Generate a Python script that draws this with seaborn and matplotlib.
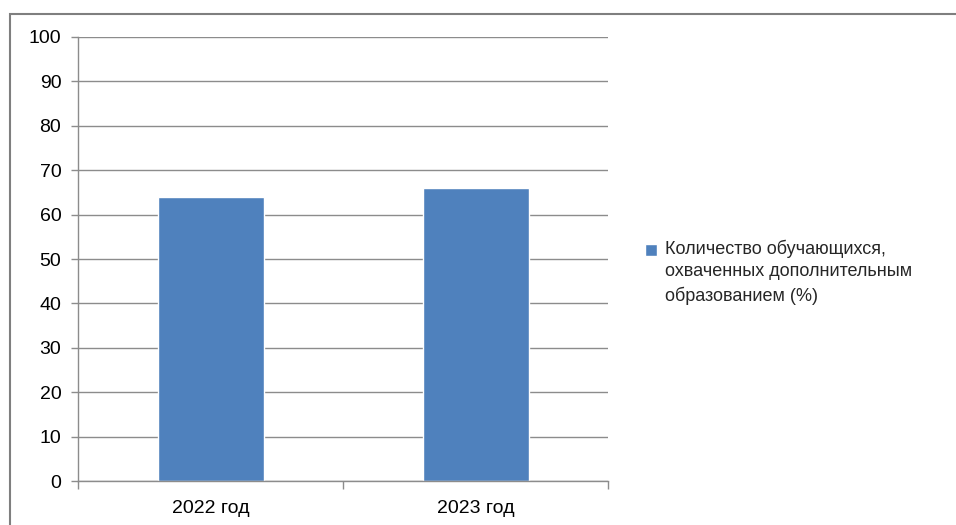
import matplotlib

matplotlib.use("Agg")

import matplotlib.pyplot as plt
import seaborn as sns
from matplotlib.legend_handler import HandlerPatch, update_from_first_child
from matplotlib.patches import Rectangle

years = ["2022 год", "2023 год"]
share = [64, 66]
series_name = "Количество обучающихся,\nохваченных дополнительным\nобразованием (%)"
y_ticks = list(range(0, 101, 10))

BAR_COLOR = "#4F81BD"
GRID_COLOR = "#8C8C8C"


def first_line_square(legend, orig_handle, xdescent, ydescent, width, height, fontsize):
    # Excel puts the legend key next to the first line of a wrapped label
    side = 0.68 * fontsize
    return Rectangle((-xdescent, -ydescent + height - side - 0.25 * fontsize), side, side)


sns.set_theme(style="white")
plt.rcParams["font.family"] = ["Liberation Sans", "DejaVu Sans"]

fig = plt.figure(figsize=(9.56, 5.25), dpi=100)
ax = fig.add_axes([78 / 956, 1 - 481 / 525, 530 / 956, 444 / 525])

sns.barplot(x=years, y=share, color=BAR_COLOR, width=0.4, saturation=1,
            label=series_name, ax=ax)

ax.set_xlim(-0.5, 1.5)
ax.set_ylim(0, 100)
ax.set_yticks(y_ticks)
ax.set_xticks([-0.5, 0.5, 1.5], minor=True)
ax.yaxis.grid(True, color=GRID_COLOR, linewidth=1.0)
ax.set_axisbelow(True)

for side in ["top", "right"]:
    ax.spines[side].set_visible(False)
for side in ["left", "bottom"]:
    ax.spines[side].set_color(GRID_COLOR)
    ax.spines[side].set_linewidth(1.0)

ax.tick_params(axis="y", left=True, length=5, width=1, color=GRID_COLOR,
               pad=7, labelsize=14, labelcolor="#000000")
ax.tick_params(axis="x", which="major", bottom=False, length=0, pad=14,
               labelsize=14, labelcolor="#000000")
ax.tick_params(axis="x", which="minor", bottom=True, length=6, width=1,
               color=GRID_COLOR)

handles, labels = ax.get_legend_handles_labels()
leg = ax.legend(handles, labels, loc="center left",
                bbox_to_anchor=(645 / 956, 1 - 272 / 525),
                bbox_transform=fig.transFigure, frameon=False, fontsize=13,
                handlelength=0.68, handleheight=1.0, handletextpad=0.45,
                borderpad=0, borderaxespad=0,
                handler_map={type(handles[0]): HandlerPatch(
                    patch_func=first_line_square,
                    update_func=update_from_first_child)})
for column in leg._legend_handle_box.get_children():
    for item in column.get_children():
        item.align = "top"
leg.get_texts()[0].set_linespacing(1.42)

fig.patches.append(Rectangle((10 / 956, -0.2), 1.2, 1.2 - 14 / 525,
                             transform=fig.transFigure, fill=False,
                             edgecolor="#7F7F7F", linewidth=1.5))

fig.savefig("out.png", dpi=100)
plt.close(fig)
